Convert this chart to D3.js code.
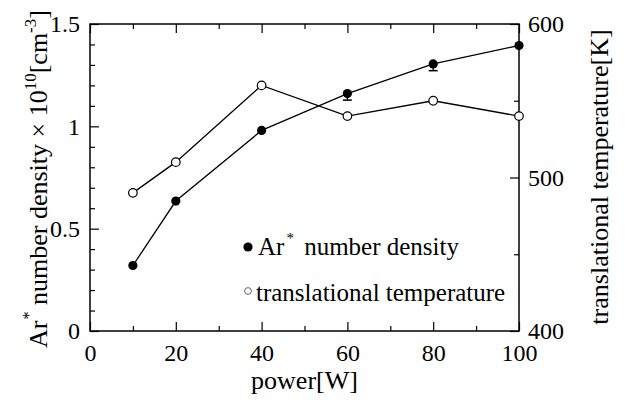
<!DOCTYPE html>
<html>
<head>
<meta charset="utf-8">
<script src="https://cdn.jsdelivr.net/npm/d3@7"></script>
<style>
  body { margin: 0; background: #fff; }
  svg text { font-family: "Liberation Serif", "Times New Roman", serif; fill: #000; }
</style>
</head>
<body>
<svg id="chart" width="625" height="405"></svg>
<script>
// values
const power = [10, 20, 40, 60, 80, 100]
const density = [0.32, 0.635, 0.98, 1.16, 1.305, 1.395]
const densityErr = [0, 0, 0, 0.032, 0.033, 0]   // only the lower half shows
const temperature = [490, 510, 560, 540, 550, 540]

const powerTicks = [0, 20, 40, 60, 80, 100]
const powerMinor = [10, 30, 50, 70, 90]
const densityTicks = [0, 0.5, 1, 1.5]
const densityMinor = [0.1, 0.2, 0.3, 0.4, 0.6, 0.7, 0.8, 0.9, 1.1, 1.2, 1.3, 1.4]
const tempTicks = [400, 500, 600]
const tempMinor = [450, 550]

const FONT = "'Liberation Serif', 'Times New Roman', serif"

const svg = d3.select("#chart")
const margin = { top: 24, right: 106, bottom: 74, left: 90 }
const width = 625 - margin.left - margin.right
const height = 405 - margin.top - margin.bottom

const x = d3.scaleLinear().domain([0, 100]).range([0, width])
const yL = d3.scaleLinear().domain([0, 1.5]).range([height, 0])
const yR = d3.scaleLinear().domain([400, 600]).range([height, 0])

const g = svg.append("g").attr("transform", `translate(${margin.left},${margin.top})`)

function styleAxis(sel) {
    sel.attr("font-family", null).attr("font-size", null)
    sel.select(".domain").remove()
    sel.selectAll("line").attr("stroke", "#000").attr("stroke-width", 1.2)
    sel.selectAll("text").style("font-family", FONT).style("font-size", "24px")
}

// bottom
g.append("g").attr("transform", `translate(0,${height})`)
    .call(d3.axisBottom(x).tickValues(powerTicks).tickSize(-9).tickPadding(13).tickFormat(d3.format("d")))
    .call(styleAxis)
g.append("g").attr("transform", `translate(0,${height})`)
    .call(d3.axisBottom(x).tickValues(powerMinor).tickSize(-5).tickFormat(""))
    .call(styleAxis)
// top
g.append("g")
    .call(d3.axisTop(x).tickValues(powerTicks).tickSize(-9).tickFormat(""))
    .call(styleAxis)
g.append("g")
    .call(d3.axisTop(x).tickValues(powerMinor).tickSize(-5).tickFormat(""))
    .call(styleAxis)
// left
g.append("g")
    .call(d3.axisLeft(yL).tickValues(densityTicks).tickSize(-9).tickPadding(10).tickFormat(d => String(d)))
    .call(styleAxis)
g.append("g")
    .call(d3.axisLeft(yL).tickValues(densityMinor).tickSize(-5).tickFormat(""))
    .call(styleAxis)
// right
g.append("g").attr("transform", `translate(${width},0)`)
    .call(d3.axisRight(yR).tickValues(tempTicks).tickSize(-9).tickPadding(9).tickFormat(d3.format("d")))
    .call(styleAxis)
g.append("g").attr("transform", `translate(${width},0)`)
    .call(d3.axisRight(yR).tickValues(tempMinor).tickSize(-5).tickFormat(""))
    .call(styleAxis)

// frame
g.append("rect")
    .attr("width", width).attr("height", height)
    .attr("fill", "none").attr("stroke", "#000").attr("stroke-width", 1.5)

const densData = power.map((p, i) => ({ p, v: density[i], e: densityErr[i] }))
const tempData = power.map((p, i) => ({ p, v: temperature[i] }))

g.append("path").datum(densData)
    .attr("fill", "none").attr("stroke", "#000").attr("stroke-width", 1.3)
    .attr("d", d3.line().x(d => x(d.p)).y(d => yL(d.v)))
g.append("path").datum(tempData)
    .attr("fill", "none").attr("stroke", "#000").attr("stroke-width", 1.3)
    .attr("d", d3.line().x(d => x(d.p)).y(d => yR(d.v)))

// error bars (lower part)
const eb = g.selectAll(".err").data(densData.filter(d => d.e > 0)).join("g")
eb.append("line")
    .attr("x1", d => x(d.p)).attr("x2", d => x(d.p))
    .attr("y1", d => yL(d.v)).attr("y2", d => yL(d.v - d.e))
    .attr("stroke", "#000").attr("stroke-width", 1.3)
eb.append("line")
    .attr("x1", d => x(d.p) - 4.5).attr("x2", d => x(d.p) + 4.5)
    .attr("y1", d => yL(d.v - d.e)).attr("y2", d => yL(d.v - d.e))
    .attr("stroke", "#000").attr("stroke-width", 1.5)

g.selectAll(".dens").data(densData).join("circle")
    .attr("cx", d => x(d.p)).attr("cy", d => yL(d.v)).attr("r", 4.6)
    .attr("fill", "#000")
g.selectAll(".temp").data(tempData).join("circle")
    .attr("cx", d => x(d.p)).attr("cy", d => yR(d.v)).attr("r", 4.3)
    .attr("fill", "#fff").attr("stroke", "#000").attr("stroke-width", 1.2)

// legend
const leg = svg.append("g")
leg.append("circle").attr("cx", 248).attr("cy", 247).attr("r", 4.6).attr("fill", "#000")
const l1 = leg.append("text").attr("x", 258).attr("y", 255).attr("font-size", 25)
l1.append("tspan").text("Ar")
l1.append("tspan").attr("font-size", 15).attr("dy", -12).attr("dx", 2).text("*")
l1.append("tspan").attr("dy", 12).attr("dx", 4).text(" number density")
leg.append("circle").attr("cx", 248).attr("cy", 291).attr("r", 3.4)
    .attr("fill", "#fff").attr("stroke", "#555").attr("stroke-width", 0.9)
leg.append("text").attr("x", 256).attr("y", 301).attr("font-size", 25)
    .text("translational temperature")

// axis titles
svg.append("text").attr("x", margin.left + width / 2).attr("y", 389)
    .attr("text-anchor", "middle").attr("font-size", 26).text("power[W]")

const yt = svg.append("text")
    .attr("transform", "translate(47,179) rotate(-90)")
    .attr("text-anchor", "middle").attr("font-size", 26)
yt.append("tspan").text("Ar")
yt.append("tspan").attr("font-size", 16).attr("dy", -13).attr("dx", 1).text("*")
yt.append("tspan").attr("dy", 13).text(" number density \u00d7 10")
yt.append("tspan").attr("font-size", 17).attr("dy", -11).text("10")
yt.append("tspan").attr("dy", 11).text("[cm")
yt.append("tspan").attr("font-size", 17).attr("dy", -11).text("-3")
yt.append("tspan").attr("dy", 11).text("]")

svg.append("text")
    .attr("transform", "translate(608,177) rotate(-90)")
    .attr("text-anchor", "middle").attr("font-size", 26)
    .text("translational temperature[K]")
</script>
</body>
</html>
